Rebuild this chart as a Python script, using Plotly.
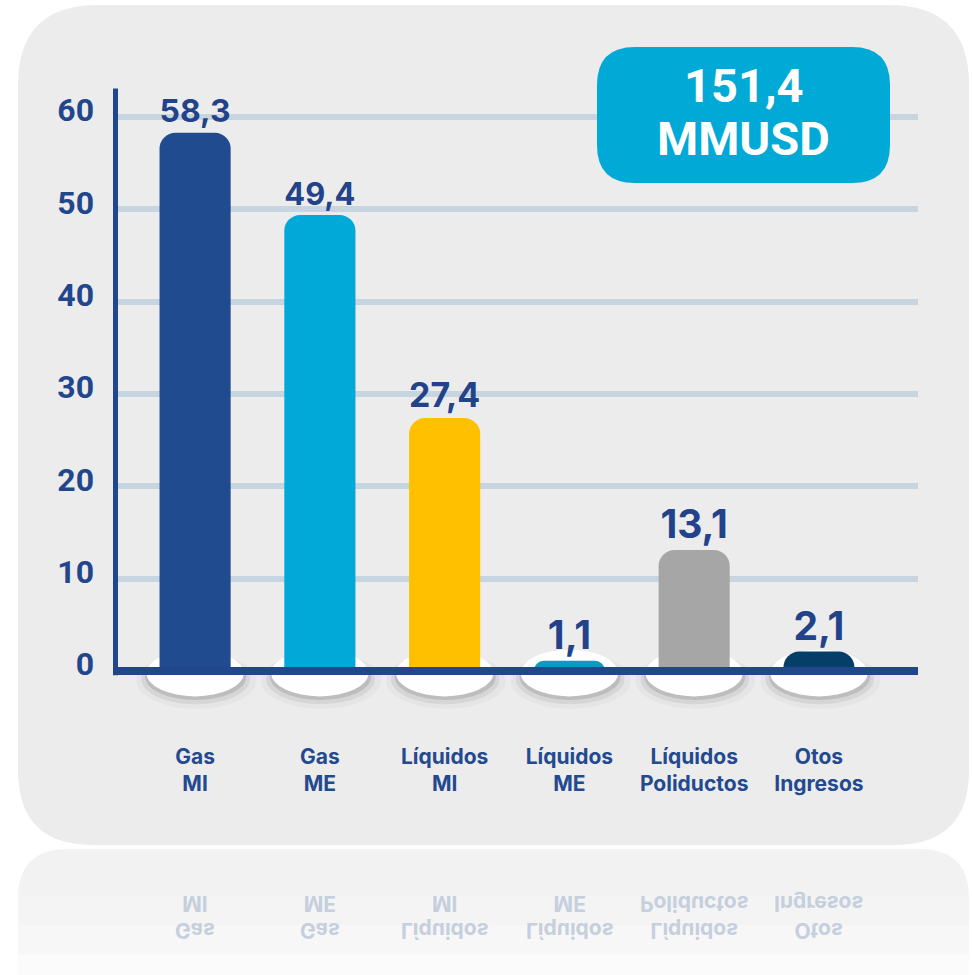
import plotly.graph_objects as go

# ---------------- data ----------------
categories = ["Gas<br>MI", "Gas<br>ME", "Líquidos<br>MI", "Líquidos<br>ME",
              "Líquidos<br>Poliductos", "Otos<br>Ingresos"]
values = [58.3, 49.4, 27.4, 1.1, 13.1, 2.1]
bar_colors = ["#214b8f", "#00a9d8", "#ffc000", "#0a9cc0", "#a6a6a6", "#053f68"]
y_ticks = [0, 10, 20, 30, 40, 50, 60]
total_value = 151.4
total_unit = "MMUSD"

# ---------------- layout helpers ----------------
W, H = 972, 975
PL, PR, PT, PB = 113, 918, 80, 740          # plot area in pixels
Y_RANGE = [-7.473, 64.01]
X_RANGE = [-0.658, 5.794]
DARK = "#22468c"
FONT = "Roboto"
WIDE = "Inter"


def fx(px):
    return (px - PL) / (PR - PL)


def fy(py):
    return (PB - py) / (PB - PT)


def rounded_path(x0, y0, x1, y1, r_top, r_bot):
    pts = []
    pts.append("M %.5f,%.5f" % (fx(x0 + r_top), fy(y0)))
    pts.append("L %.5f,%.5f" % (fx(x1 - r_top), fy(y0)))
    pts.append("Q %.5f,%.5f %.5f,%.5f" % (fx(x1), fy(y0), fx(x1), fy(y0 + r_top)))
    pts.append("L %.5f,%.5f" % (fx(x1), fy(y1 - r_bot)))
    pts.append("Q %.5f,%.5f %.5f,%.5f" % (fx(x1), fy(y1), fx(x1 - r_bot), fy(y1)))
    pts.append("L %.5f,%.5f" % (fx(x0 + r_bot), fy(y1)))
    pts.append("Q %.5f,%.5f %.5f,%.5f" % (fx(x0), fy(y1), fx(x0), fy(y1 - r_bot)))
    pts.append("L %.5f,%.5f" % (fx(x0), fy(y0 + r_top)))
    pts.append("Q %.5f,%.5f %.5f,%.5f" % (fx(x0), fy(y0), fx(x0 + r_top), fy(y0)))
    pts.append("Z")
    return " ".join(pts)


xs = list(range(len(categories)))

fig = go.Figure()
fig.add_trace(go.Bar(
    x=xs, y=values,
    marker=dict(color=bar_colors, line=dict(width=0)),
    width=0.57,
    texttemplate="%{y:.1f}",
    textposition="outside",
    textfont=dict(family=WIDE, size=39, color="#22428a", weight="bold"),
    cliponaxis=False,
    hoverinfo="skip",
))

shapes = []
# reflection panel (faded, stacked layers)
for bottom in [985, 955, 925, 895]:
    shapes.append(dict(type="path", xref="paper", yref="paper",
                       path=rounded_path(18, 849, 969, bottom, 50, 0),
                       fillcolor="#e9e9e9", opacity=0.18, line=dict(width=0),
                       layer="below"))
# main panel
shapes.append(dict(type="path", xref="paper", yref="paper",
                   path=rounded_path(18, 5, 969, 845, 80, 75),
                   fillcolor="#ececec", line=dict(width=0), layer="below"))

# base ellipses with soft shadow under each bar
for i in xs:
    shapes.append(dict(type="circle", xref="x", yref="y", layer="below",
                       x0=i - 0.47, x1=i + 0.49, y0=-4.1, y1=2.0,
                       fillcolor="#e5e5e5", line=dict(width=0)))
    shapes.append(dict(type="circle", xref="x", yref="y", layer="below",
                       x0=i - 0.43, x1=i + 0.44, y0=-3.6, y1=1.8,
                       fillcolor="#d6d6d6", line=dict(width=0)))
    shapes.append(dict(type="circle", xref="x", yref="y", layer="below",
                       x0=i - 0.40, x1=i + 0.41, y0=-3.15, y1=1.9,
                       fillcolor="#bdbdbd", line=dict(width=0)))
    shapes.append(dict(type="circle", xref="x", yref="y", layer="below",
                       x0=i - 0.39, x1=i + 0.39, y0=-2.75, y1=2.3,
                       fillcolor="#ffffff", line=dict(width=0)))

# axis lines
shapes.append(dict(type="line", xref="paper", yref="y", layer="above",
                   x0=0, x1=1, y0=0, y1=0, line=dict(color=DARK, width=8)))
shapes.append(dict(type="line", xref="paper", yref="y", layer="above",
                   x0=fx(115.5), x1=fx(115.5), y0=-0.45, y1=63.1,
                   line=dict(color=DARK, width=5)))
# total box
shapes.append(dict(type="path", xref="paper", yref="paper", layer="above",
                   path=rounded_path(597, 47, 890, 183, 38, 38),
                   fillcolor="#00a9d6", line=dict(width=0)))

annotations = []
total_txt = ("%.1f" % total_value).replace(".", ",")
annotations.append(dict(xref="paper", yref="paper", x=fx(743.5), y=fy(86),
                        text=total_txt, showarrow=False, xanchor="center", yanchor="middle",
                        font=dict(family=FONT, size=47, color="white", weight="bold")))
annotations.append(dict(xref="paper", yref="paper", x=fx(743.5), y=fy(139),
                        text=total_unit, showarrow=False, xanchor="center", yanchor="middle",
                        font=dict(family=FONT, size=47, color="white", weight="bold")))
first_refl = len(annotations)
for i, c in zip(xs, categories):
    annotations.append(dict(xref="x", yref="paper", x=i, y=fy(917),
                            text=c, showarrow=False, xanchor="center", yanchor="middle",
                            font=dict(family=WIDE, size=21, color="#c6cfdd", weight="bold")))

fig.update_layout(
    width=W, height=H,
    margin=dict(l=PL, r=W - PR, t=PT, b=H - PB, pad=0),
    paper_bgcolor="#ffffff",
    plot_bgcolor="rgba(0,0,0,0)",
    separators=",.",
    showlegend=False,
    barcornerradius=16,
    shapes=shapes,
    annotations=annotations,
    xaxis=dict(range=X_RANGE, tickvals=xs, ticktext=categories,
               showgrid=False, zeroline=False, showline=False, ticks="",
               ticklabelstandoff=2, fixedrange=True,
               tickfont=dict(family=WIDE, size=21, color="#23498f", weight="bold")),
    yaxis=dict(range=Y_RANGE, tickvals=y_ticks, showgrid=True,
               gridcolor="#c6d5e0", gridwidth=6, zeroline=False, showline=False,
               ticks="", ticklabelstandoff=18, ticklabelshift=-7, fixedrange=True,
               tickfont=dict(family=FONT, size=32, color="#22468c", weight="bold")),
)

post_js = """
document.body.style.margin = '0';
document.body.style.padding = '0';
var gd = document.getElementById('{plot_id}');
function flipRefl(){
  gd.querySelectorAll('g.annotation').forEach(function(g){
    var idx = parseInt(g.getAttribute('data-index'));
    if (idx >= %d) {
      var t = g.querySelector('text.annotation-text');
      if (t) { t.style.transformBox = 'fill-box'; t.style.transformOrigin = 'center'; t.style.transform = 'scaleY(-1)'; }
    }
  });
}
flipRefl();
gd.on('plotly_afterplot', flipRefl);
""" % first_refl

fig.write_html("out.html", post_script=post_js, config={"displayModeBar": False})
